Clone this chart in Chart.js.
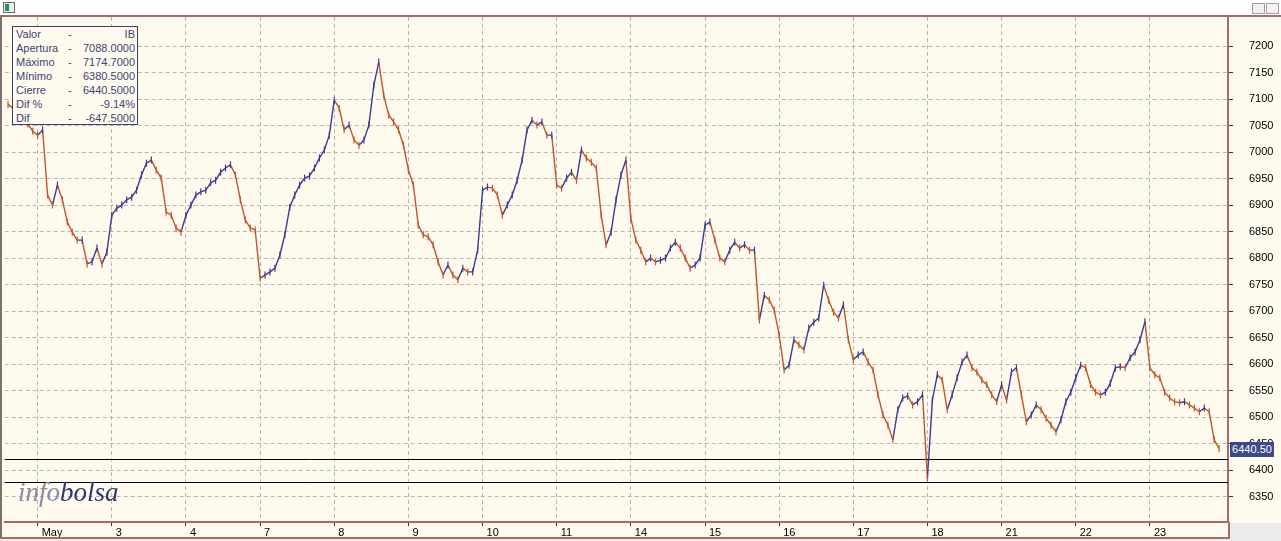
<!DOCTYPE html>
<html>
<head>
<meta charset="utf-8">
<script src="https://cdn.jsdelivr.net/npm/chart.js@4.4.0/dist/chart.umd.min.js"></script>
<style>
html,body{margin:0;padding:0;background:#ffffff;}
#wrap{position:relative;width:1281px;height:541px;overflow:hidden;background:#fefaed;font-family:"Liberation Sans",Arial,sans-serif;}
#c{position:absolute;left:0;top:0;}
.ov{position:absolute;}
#titlebar{left:0;top:0;width:1281px;height:15px;background:#ffffff;border-bottom:2px solid #a86a66;}
#icon{left:3px;top:2px;width:10px;height:9px;border:1px solid #6b6b6b;background:#e8f3ea;}
#icon i{position:absolute;left:1px;top:1px;width:4px;height:7px;background:#2f8a5a;}
.btn{top:3px;width:11px;height:9px;border:1px solid #a0a0a0;background:#f2f2f2;}
#leftstrip{left:0;top:17px;width:2px;height:524px;background:#7d7070;}
#botline{left:0;top:537px;width:1281px;height:4px;background:#ececec;border-top:2px solid #a86a66;}
#rightgrey{left:1230px;top:523px;width:51px;height:18px;background:#ececec;}
#rightsep{left:1228px;top:522px;width:2px;height:16px;background:#a86a66;}
#info{left:12px;top:26px;width:124px;height:97px;border:1px solid #3b3f6e;background:#fefaed;color:#3b4577;font-size:11px;}
#info .row{position:relative;height:14px;line-height:14px;}
#info .l{position:absolute;left:3px;}
#info .d{position:absolute;left:55px;}
#info .v{position:absolute;right:2px;}
#logo{left:18px;top:479px;font-family:"Liberation Serif","DejaVu Serif",serif;font-style:italic;font-size:27px;line-height:27px;white-space:nowrap;}
#logo .a{color:#8a8aa8;}
#logo .b{color:#2a3870;}
#last{left:1230px;top:442px;width:44px;height:15px;line-height:15px;background:#3a4a8a;color:#ffffff;font-size:11px;text-align:center;}
</style>
</head>
<body>
<div id="wrap">
<canvas id="c" width="1281" height="541"></canvas>
<div class="ov" id="titlebar"></div>
<div class="ov" id="icon"><i></i></div>
<div class="ov btn" style="left:1252px"></div>
<div class="ov btn" style="left:1266px"></div>
<div class="ov" id="leftstrip"></div>
<div class="ov" id="botline"></div>
<div class="ov" id="rightgrey"></div>
<div class="ov" id="rightsep"></div>
<div class="ov" id="info"></div>
<div class="ov" id="logo"><span class="a">info</span><span class="b">bolsa</span></div>
<div class="ov" id="last"></div>
</div>
<script>
// ---- data ----
const dayLabels = ['May','3','4','7','8','9','10','11','14','15','16','17','18','21','22','23'];
const firstDayBars = 6;     // partial session before "May" tick
const barsPerDay = 15;
const closes = [
  7090, 7083, 7075, 7064, 7053, 7040,
  7032, 7042, 6919, 6900, 6938, 6910, 6868, 6849, 6834, 6834, 6789, 6793, 6819, 6789, 6811,
  6881, 6894, 6900, 6910, 6915, 6928, 6957, 6979, 6985, 6966, 6951, 6887, 6881, 6857, 6849,
  6881, 6900, 6919, 6925, 6928, 6942, 6947, 6962, 6970, 6976, 6957, 6910, 6872, 6857, 6853,
  6762, 6768, 6774, 6781, 6806, 6844, 6896, 6919, 6938, 6951, 6955, 6970, 6989, 7004, 7032,
  7098, 7083, 7042, 7051, 7023, 7013, 7023, 7051, 7126, 7170, 7108, 7070, 7057, 7042, 7013,
  6966, 6938, 6862, 6844, 6840, 6825, 6793, 6768, 6787, 6768, 6759, 6781, 6774, 6774, 6815,
  6928, 6934, 6932, 6919, 6881, 6900, 6919, 6947, 6985, 7042, 7060, 7051, 7057, 7032, 7032,
  6938, 6932, 6951, 6962, 6947, 7004, 6989, 6981, 6970, 6881, 6825, 6849, 6910, 6957, 6985,
  6875, 6834, 6815, 6793, 6800, 6793, 6796, 6800, 6819, 6830, 6819, 6800, 6781, 6787, 6800,
  6862, 6868, 6834, 6800, 6793, 6815, 6830, 6819, 6825, 6815, 6815, 6683, 6730, 6721, 6702,
  6655, 6589, 6598, 6646, 6636, 6627, 6668, 6679, 6687, 6749, 6721, 6698, 6687, 6712, 6646,
  6608, 6617, 6623, 6604, 6589, 6542, 6504, 6485, 6457, 6514, 6536, 6540, 6523, 6529, 6542,
  6385, 6532, 6580, 6570, 6514, 6542, 6574, 6604, 6617, 6593, 6585, 6570, 6561, 6542, 6529,
  6561, 6532, 6585, 6593, 6542, 6491, 6504, 6523, 6514, 6498, 6485, 6472, 6495, 6529, 6547,
  6574, 6598, 6593, 6561, 6547, 6542, 6547, 6564, 6593, 6595, 6593, 6612, 6623, 6646, 6680,
  6593, 6580, 6574, 6547, 6536, 6529, 6527, 6529, 6523, 6517, 6510, 6517, 6510, 6457, 6440.5
];
const yTicks = [6350,6400,6450,6500,6550,6600,6650,6700,6750,6800,6850,6900,6950,7000,7050,7100,7150,7200];
const refLevels = [6420, 6378];
const infoLabels = ['Valor','Apertura','Máximo','Mínimo','Cierre','Dif %','Dif'];
const infoValues = ['IB','7088.0000','7174.7000','6380.5000','6440.5000','-9.14%','-647.5000'];
const lastValue = '6440.50';

// ---- DOM text ----
const info = document.getElementById('info');
infoLabels.forEach((l, i) => {
  const r = document.createElement('div'); r.className = 'row';
  r.innerHTML = '<span class="l"></span><span class="d">-</span><span class="v"></span>';
  r.querySelector('.l').textContent = l;
  r.querySelector('.v').textContent = infoValues[i];
  info.appendChild(r);
});
document.getElementById('last').textContent = lastValue;

// ---- chart ----
const RED = '#c4542c', BLUE = '#3c3c8e';
const dayStartIdx = dayLabels.map((_, d) => firstDayBars + d * barsPerDay);
const pts = closes.map((v, i) => ({x: i, y: v}));
const upAt = i => i > 0 && closes[i] >= closes[i - 1];
const noPad = s => { s.paddingTop = 0; s.paddingBottom = 0; s.paddingLeft = 0; s.paddingRight = 0; };

const refPlugin = {
  id: 'refLines',
  beforeDatasetsDraw(chart) {
    const {ctx, chartArea: a, scales: {y}} = chart;
    ctx.save();
    ctx.strokeStyle = '#000000';
    ctx.lineWidth = 1;
    refLevels.forEach(v => {
      const py = Math.round(y.getPixelForValue(v)) + 0.5;
      ctx.beginPath(); ctx.moveTo(a.left, py); ctx.lineTo(a.right, py); ctx.stroke();
    });
    ctx.restore();
  }
};

new Chart(document.getElementById('c'), {
  type: 'line',
  data: {
    datasets: [{
      data: pts,
      borderColor: RED,
      borderWidth: 1.4,
      segment: { borderColor: s => (s.p1.parsed.y >= s.p0.parsed.y ? BLUE : RED) },
      pointStyle: 'line',
      pointRotation: 90,
      pointRadius: 3.5,
      pointBorderWidth: 1.2,
      pointBorderColor: c => (upAt(c.dataIndex) ? BLUE : RED),
      pointHoverRadius: 3.5,
      tension: 0
    }]
  },
  options: {
    responsive: false,
    animation: false,
    devicePixelRatio: 1,
    layout: { padding: { left: 3, top: 17, right: 0, bottom: 0 } },
    plugins: { legend: { display: false }, tooltip: { enabled: false } },
    scales: {
      x: {
        type: 'linear',
        min: -0.67,
        max: 246.8,
        afterBuildTicks: s => { s.ticks = dayStartIdx.map(v => ({ value: v })); },
        afterFit: s => { s.height = 19; noPad(s); },
        grid: { color: '#b8b6ae', lineWidth: 1, tickLength: 4, tickColor: '#333333', tickWidth: 1 },
        border: { display: true, color: '#a86a66', width: 2, dash: [4, 3] },
        ticks: {
          align: 'start', labelOffset: 4, padding: 0, color: '#000000', autoSkip: false, maxRotation: 0,
          font: { family: 'Liberation Sans', size: 11 },
          callback: (v, i) => dayLabels[i]
        }
      },
      y: {
        position: 'right',
        min: 6302,
        max: 7255,
        afterBuildTicks: s => { s.ticks = yTicks.map(v => ({ value: v })); },
        afterFit: s => { s.width = 53; noPad(s); },
        grid: { color: '#b8b6ae', lineWidth: 1, tickLength: 5, tickColor: '#333333', tickWidth: 1 },
        border: { display: true, color: '#a86a66', width: 2, dash: [4, 3] },
        ticks: {
          padding: 16, color: '#000000', autoSkip: false,
          font: { family: 'Liberation Sans', size: 11 },
          callback: v => String(v)
        }
      }
    }
  },
  plugins: [refPlugin]
});
</script>
</body>
</html>
